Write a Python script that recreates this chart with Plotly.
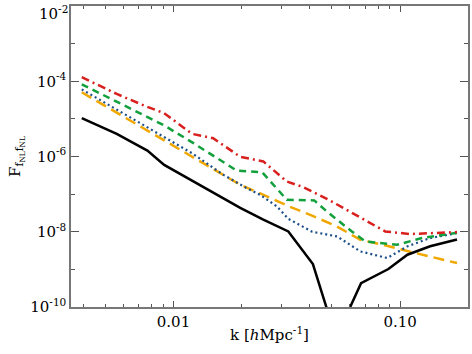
import plotly.graph_objects as go

# k in h/Mpc, F values
k_black = [0.00394, 0.00562, 0.00767, 0.0091, 0.0197, 0.0249, 0.0321, 0.0412, 0.0521,
           0.0672, 0.0887, 0.1076, 0.1355, 0.178]
f_black = [1.05e-5, 4.0e-6, 1.44e-6, 6.0e-7, 4.3e-8, 2.1e-8, 1.02e-8, 1.38e-9, 1.5e-11,
           4.3e-10, 1.02e-9, 2.45e-9, 4.1e-9, 6.2e-9]

k_red = [0.00394, 0.00562, 0.00767, 0.0091, 0.01206, 0.01496, 0.0197, 0.0249, 0.0316,
         0.0374, 0.0477, 0.0601, 0.0859, 0.1107, 0.178]
f_red = [1.28e-4, 4.6e-5, 2.08e-5, 1.42e-5, 4.0e-6, 3.07e-6, 9.8e-7, 7.4e-7, 2.16e-7,
         1.53e-7, 7.4e-8, 3.45e-8, 1.02e-8, 8.7e-9, 9.8e-9]

k_green = [0.00394, 0.00562, 0.00767, 0.0091, 0.01225, 0.01905, 0.0246, 0.0316, 0.0418,
           0.0476, 0.0612, 0.0702, 0.0966, 0.1248, 0.178]
f_green = [8.3e-5, 2.91e-5, 1.13e-5, 6.7e-6, 2.26e-6, 4.2e-7, 3.84e-7, 7.1e-8, 6.8e-8,
           3.4e-8, 1.02e-8, 5.5e-9, 4.5e-9, 6.8e-9, 9.4e-9]

k_blue = [0.00394, 0.00562, 0.00767, 0.0091, 0.01206, 0.01662, 0.0204, 0.0241, 0.0286,
          0.0321, 0.0409, 0.0527, 0.0667, 0.0877, 0.1072, 0.1355, 0.178]
f_blue = [6.1e-5, 1.79e-5, 5.9e-6, 3.3e-6, 1.23e-6, 3.25e-7, 1.59e-7, 9.6e-8, 4.7e-8,
          2.21e-8, 1.0e-8, 7.5e-9, 3.0e-9, 2.0e-9, 4.06e-9, 6.8e-9, 9.2e-9]

k_orange = [0.00394, 0.00562, 0.00767, 0.0091, 0.0121, 0.0197, 0.0267, 0.0327, 0.0401,
            0.0526, 0.0667, 0.0841, 0.1107, 0.178]
f_orange = [5.1e-5, 1.46e-5, 4.85e-6, 2.67e-6, 9.8e-7, 1.77e-7, 8.0e-8, 4.6e-8, 2.82e-8,
            1.38e-8, 6.1e-9, 4.5e-9, 2.94e-9, 1.47e-9]

x_ticks = [0.01, 0.1]
x_ticktext = ["0.01", "0.10"]
x_minor = [0.004, 0.005, 0.006, 0.007, 0.008, 0.009,
           0.02, 0.03, 0.04, 0.05, 0.06, 0.07, 0.08, 0.09, 0.2]
y_ticks = [1e-10, 1e-8, 1e-6, 1e-4, 1e-2]
y_ticktext = ["10<sup>-10</sup>", "10<sup>-8</sup>", "10<sup>-6</sup>",
              "10<sup>-4</sup>", "10<sup>-2</sup>"]
y_minor = [1e-9, 1e-7, 1e-5, 1e-3]

fig = go.Figure()

# order: orange, blue, green, red, black
fig.add_trace(go.Scatter(x=k_orange, y=f_orange, mode="lines",
                         line=dict(color="#f0a800", width=2.5, dash="11px,6px")))
fig.add_trace(go.Scatter(x=k_blue, y=f_blue, mode="lines",
                         line=dict(color="#1c4f8a", width=2.2, dash="2px,3px")))
fig.add_trace(go.Scatter(x=k_green, y=f_green, mode="lines",
                         line=dict(color="#12a03c", width=2.5, dash="7px,5px")))
fig.add_trace(go.Scatter(x=k_red, y=f_red, mode="lines",
                         line=dict(color="#d8201e", width=2.5, dash="8px,4px,2px,4px")))
fig.add_trace(go.Scatter(x=k_black, y=f_black, mode="lines",
                         line=dict(color="black", width=2.5)))

axis_common = dict(
    type="log", showgrid=False, zeroline=False, automargin=False,
    showline=True, linecolor="#777777", linewidth=1.5, mirror="allticks",
    ticks="inside", tickcolor="#555555", tickwidth=1, ticklabeloverflow="allow",
    tickfont=dict(family="DejaVu Serif", size=15, color="black"),
)

fig.update_xaxes(
    **axis_common,
    range=[-2.452, -0.701],
    tickmode="array", tickvals=x_ticks, ticktext=x_ticktext, ticklen=6,
    minor=dict(tickmode="array", tickvals=x_minor, ticks="inside", ticklen=3,
               tickcolor="#555555", showgrid=False),
    title=dict(text="k [<i>h</i>Mpc<sup>-1</sup>]", standoff=0,
               font=dict(family="DejaVu Serif", size=15, color="black")),
)
# top label would be clipped at the page edge, so it is drawn as an annotation below
fig.update_yaxes(
    **axis_common,
    range=[-10, -2],
    tickmode="array", tickvals=y_ticks, ticktext=y_ticktext[:-1] + [""], ticklen=8,
    minor=dict(tickmode="array", tickvals=y_minor, ticks="inside", ticklen=4,
               tickcolor="#555555", showgrid=False),
    title=dict(text="F<sub>f<sub>NL</sub>f<sub>NL</sub></sub>", standoff=6,
               font=dict(family="DejaVu Serif", size=15, color="black")),
)
fig.add_annotation(x=0, y=1, xref="paper", yref="paper", xanchor="right", yanchor="top",
                   xshift=-1, yshift=5, showarrow=False, text=y_ticktext[-1],
                   font=dict(family="DejaVu Serif", size=15, color="black"))

fig.update_layout(
    width=472, height=354,
    margin=dict(l=71, r=4, t=6, b=47),
    plot_bgcolor="white", paper_bgcolor="white",
    showlegend=False,
)

# the page's default body margin would shift the figure
fig.write_html("out.html", config={"displayModeBar": False},
               post_script="document.body.style.margin='0';")
